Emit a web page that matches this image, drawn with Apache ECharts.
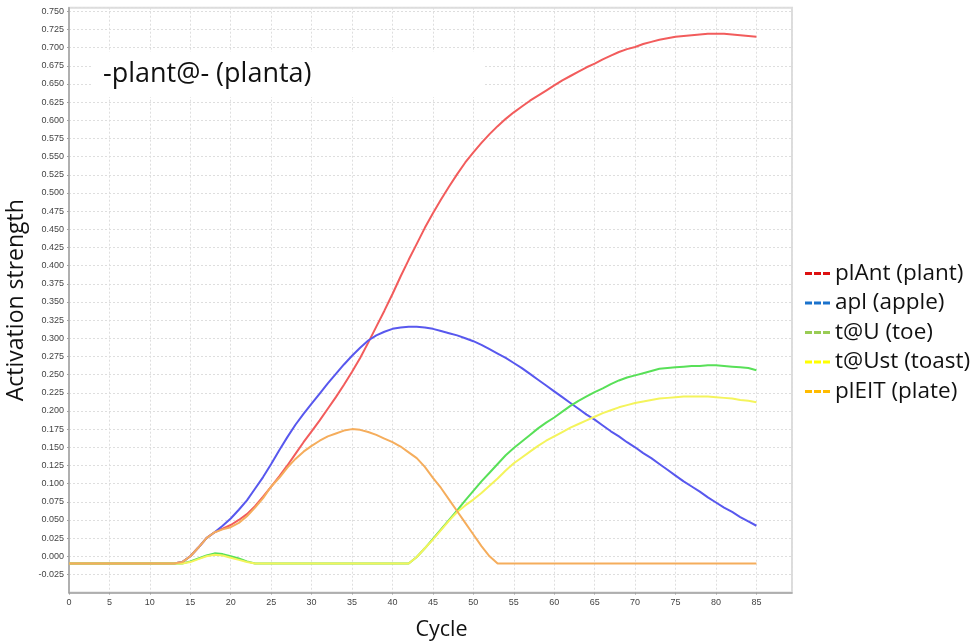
<!DOCTYPE html>
<html>
<head>
<meta charset="utf-8">
<script src="https://cdn.jsdelivr.net/npm/echarts@6/dist/echarts.min.js"></script>
<style>
  html, body { margin: 0; padding: 0; background: #fff; }
  #chart { width: 978px; height: 644px; }
</style>
</head>
<body>
<div id="chart"></div>
<script>
// cycle numbers (x)
const cycles = [0, 1, 2, 3, 4, 5, 6, 7, 8, 9, 10, 11, 12, 13, 14, 15, 16, 17, 18, 19,
  20, 21, 22, 23, 24, 25, 26, 27, 28, 29, 30, 31, 32, 33, 34, 35, 36, 37, 38, 39,
  40, 41, 42, 43, 44, 45, 46, 47, 48, 49, 50, 51, 52, 53, 54, 55, 56, 57, 58, 59,
  60, 61, 62, 63, 64, 65, 66, 67, 68, 69, 70, 71, 72, 73, 74, 75, 76, 77, 78, 79,
  80, 81, 82, 83, 84, 85];

// activation per cycle
const plantVals = [-0.01, -0.01, -0.01, -0.01, -0.01, -0.01, -0.01, -0.01, -0.01, -0.01,
  -0.01, -0.01, -0.01, -0.01, -0.008, 0.0, 0.012, 0.025, 0.033, 0.038,
  0.043, 0.050, 0.058, 0.069, 0.082, 0.096, 0.110, 0.125, 0.141, 0.157,
  0.172, 0.187, 0.203, 0.219, 0.236, 0.254, 0.273, 0.294, 0.316, 0.338,
  0.361, 0.385, 0.408, 0.430, 0.452, 0.472, 0.491, 0.509, 0.526, 0.542,
  0.556, 0.569, 0.581, 0.592, 0.602, 0.611, 0.619, 0.627, 0.634, 0.641,
  0.648, 0.655, 0.661, 0.667, 0.673, 0.678, 0.684, 0.689, 0.694, 0.698,
  0.701, 0.705, 0.708, 0.711, 0.713, 0.715, 0.716, 0.717, 0.718, 0.719,
  0.719, 0.719, 0.718, 0.717, 0.716, 0.715];

const appleVals = [-0.01, -0.01, -0.01, -0.01, -0.01, -0.01, -0.01, -0.01, -0.01, -0.01,
  -0.01, -0.01, -0.01, -0.01, -0.008, 0.0, 0.012, 0.025, 0.033, 0.042,
  0.052, 0.064, 0.077, 0.093, 0.109, 0.127, 0.146, 0.164, 0.181, 0.196,
  0.210, 0.224, 0.238, 0.251, 0.264, 0.276, 0.287, 0.297, 0.304, 0.309,
  0.313, 0.315, 0.316, 0.316, 0.315, 0.313, 0.310, 0.307, 0.304, 0.300,
  0.296, 0.291, 0.285, 0.279, 0.273, 0.266, 0.259, 0.251, 0.243, 0.235,
  0.227, 0.219, 0.211, 0.203, 0.195, 0.188, 0.180, 0.172, 0.165, 0.157,
  0.150, 0.142, 0.135, 0.127, 0.119, 0.111, 0.103, 0.096, 0.089, 0.081,
  0.074, 0.067, 0.061, 0.054, 0.048, 0.042];

const toeVals = [-0.01, -0.01, -0.01, -0.01, -0.01, -0.01, -0.01, -0.01, -0.01, -0.01,
  -0.01, -0.01, -0.01, -0.01, -0.01, -0.007, -0.003, 0.001, 0.004, 0.003,
  0.0, -0.003, -0.007, -0.01, -0.01, -0.01, -0.01, -0.01, -0.01, -0.01,
  -0.01, -0.01, -0.01, -0.01, -0.01, -0.01, -0.01, -0.01, -0.01, -0.01,
  -0.01, -0.01, -0.01, -0.001, 0.011, 0.024, 0.037, 0.050, 0.063, 0.077,
  0.090, 0.103, 0.115, 0.127, 0.139, 0.149, 0.158, 0.167, 0.176, 0.184,
  0.191, 0.199, 0.207, 0.214, 0.220, 0.226, 0.231, 0.237, 0.242, 0.246,
  0.249, 0.252, 0.255, 0.258, 0.259, 0.260, 0.261, 0.262, 0.262, 0.263,
  0.263, 0.262, 0.261, 0.260, 0.259, 0.256];

const toastVals = [-0.01, -0.01, -0.01, -0.01, -0.01, -0.01, -0.01, -0.01, -0.01, -0.01,
  -0.01, -0.01, -0.01, -0.01, -0.01, -0.008, -0.004, 0.0, 0.002, 0.001,
  -0.002, -0.005, -0.008, -0.01, -0.01, -0.01, -0.01, -0.01, -0.01, -0.01,
  -0.01, -0.01, -0.01, -0.01, -0.01, -0.01, -0.01, -0.01, -0.01, -0.01,
  -0.01, -0.01, -0.01, -0.001, 0.011, 0.023, 0.036, 0.049, 0.061, 0.070,
  0.078, 0.087, 0.097, 0.107, 0.118, 0.128, 0.136, 0.144, 0.152, 0.159,
  0.165, 0.171, 0.177, 0.182, 0.187, 0.192, 0.197, 0.201, 0.205, 0.208,
  0.211, 0.213, 0.215, 0.217, 0.218, 0.219, 0.220, 0.220, 0.220, 0.220,
  0.219, 0.218, 0.217, 0.215, 0.214, 0.212];

const plateVals = [-0.01, -0.01, -0.01, -0.01, -0.01, -0.01, -0.01, -0.01, -0.01, -0.01,
  -0.01, -0.01, -0.01, -0.01, -0.008, 0.0, 0.012, 0.025, 0.033, 0.037,
  0.040, 0.046, 0.055, 0.067, 0.080, 0.096, 0.108, 0.122, 0.134, 0.144,
  0.152, 0.159, 0.165, 0.169, 0.173, 0.175, 0.174, 0.171, 0.167, 0.162,
  0.157, 0.151, 0.143, 0.135, 0.123, 0.108, 0.094, 0.078, 0.062, 0.046,
  0.030, 0.014, 0.0, -0.01, -0.01, -0.01, -0.01, -0.01, -0.01, -0.01,
  -0.01, -0.01, -0.01, -0.01, -0.01, -0.01, -0.01, -0.01, -0.01, -0.01,
  -0.01, -0.01, -0.01, -0.01, -0.01, -0.01, -0.01, -0.01, -0.01, -0.01,
  -0.01, -0.01, -0.01, -0.01, -0.01, -0.01];

const seriesNames = ["plAnt (plant)", "apl (apple)", "t@U (toe)", "t@Ust (toast)", "plEIT (plate)"];
const seriesVals = [plantVals, appleVals, toeVals, toastVals, plateVals];
const lineColors = ["#f25c5c", "#5858ee", "#58e058", "#f4f45c", "#f5ad5c"];
const legendColors = ["#dd1111", "#1a72cc", "#99cc55", "#ffff00", "#ffbb00"];

const dashIcon = "path://M0,0h7v3h-7zM9,0h7v3h-7zM18,0h7v3h-7z";
const tickFont = "Liberation Sans, Arial, sans-serif";
const textFont = "Open Sans, Noto Sans, sans-serif";

const chart = echarts.init(document.getElementById("chart"));

const option = {
  backgroundColor: "#fff",
  animation: false,
  title: {
    text: "-plant@- (planta)",
    left: 93,
    top: 52,
    backgroundColor: "#fff",
    padding: [9, 172, 9, 10],
    textStyle: { fontFamily: textFont, fontSize: 27, fontWeight: "normal", color: "#111" },
  },
  legend: {
    orient: "vertical",
    left: 800,
    top: 257,
    itemWidth: 25,
    itemHeight: 3,
    itemGap: 6.5,
    icon: dashIcon,
    textStyle: { fontFamily: textFont, fontSize: 22.5, color: "#111" },
    data: seriesNames.map((n, i) => ({ name: n, itemStyle: { color: legendColors[i] } })),
  },
  grid: {
    left: 69,
    right: 186,
    top: 7.7,
    bottom: 51.4,
    outerBoundsMode: "none",
    show: true,
    borderColor: "#dcdcdc",
    borderWidth: 2,
  },
  xAxis: {
    type: "value",
    min: 0,
    max: 89.4,
    interval: 5,
    name: "Cycle",
    nameLocation: "middle",
    nameGap: 26,
    nameTextStyle: { fontFamily: textFont, fontSize: 21.5, color: "#111", padding: [0, 0, 0, 22] },
    axisLine: { onZero: false, lineStyle: { color: "#a0a0a0", width: 1.5 } },
    axisTick: { show: true, length: 2, lineStyle: { color: "#a0a0a0" } },
    axisLabel: { fontFamily: tickFont, fontSize: 9, color: "#444", margin: 5, showMaxLabel: false },
    splitLine: { lineStyle: { color: "#dedede", type: [2, 2] } },
  },
  yAxis: {
    type: "value",
    min: -0.05,
    max: 0.755,
    interval: 0.025,
    name: "Activation strength",
    nameLocation: "middle",
    nameGap: 31,
    nameTextStyle: { fontFamily: textFont, fontSize: 23, color: "#111" },
    axisLine: { show: true, onZero: false, lineStyle: { color: "#a0a0a0", width: 1.5 } },
    axisTick: { show: true, length: 2, lineStyle: { color: "#a0a0a0" } },
    axisLabel: {
      fontFamily: tickFont, fontSize: 9, color: "#444", margin: 5,
      showMinLabel: false, showMaxLabel: false,
      formatter: (v) => v.toFixed(3),
    },
    splitLine: { lineStyle: { color: "#dedede", type: [2, 2] } },
  },
  series: seriesNames.map((name, i) => ({
    name: name,
    type: "line",
    showSymbol: false,
    symbol: "none",
    color: lineColors[i],
    lineStyle: { width: 2, color: lineColors[i] },
    data: cycles.map((c, k) => [c, seriesVals[i][k]]),
  })),
};

chart.setOption(option);
</script>
</body>
</html>
